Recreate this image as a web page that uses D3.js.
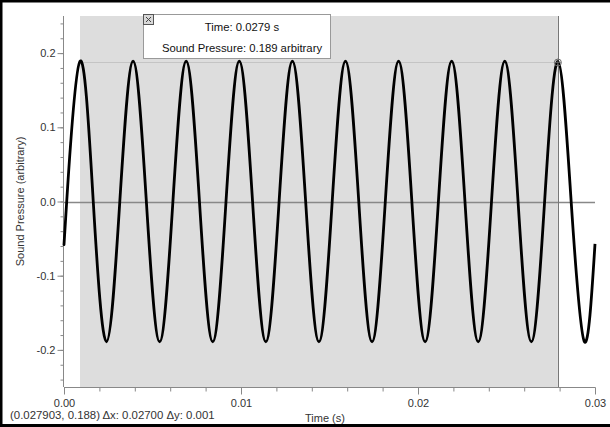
<!DOCTYPE html>
<html>
<head>
<meta charset="utf-8">
<script src="https://cdn.jsdelivr.net/npm/d3@7"></script>
<style>
  body { margin: 0; background: #fff; }
  svg { display: block; font-family: "Liberation Sans", Arial, sans-serif; }
</style>
</head>
<body>
<div id="chart"></div>
<script>
// values
const peakTimes = [0.000903, 0.003903, 0.006903, 0.009903, 0.012903, 0.015903, 0.018903, 0.021903, 0.024903, 0.027903];
const troughTimes = [0.002403, 0.005403, 0.008403, 0.011403, 0.014403, 0.017403, 0.020403, 0.023403, 0.026403, 0.029403];
const riseTimes = [0.000153, 0.003153, 0.006153, 0.009153, 0.012153, 0.015153, 0.018153, 0.021153, 0.024153, 0.027153];
const fallTimes = [0.001653, 0.004653, 0.007653, 0.010653, 0.013653, 0.016653, 0.019653, 0.022653, 0.025653, 0.028653];
const peakValue = 0.189;
const troughValue = -0.189;
const startPoint = [0, -0.058];
const endPoint = [0.03, -0.057];

const xMajor = [0, 0.01, 0.02, 0.03];
const xLabels = ['0.00', '0.01', '0.02', '0.03'];
const yMajor = [-0.2, -0.1, 0, 0.1, 0.2];
const yLabels = ['-0.2', '-0.1', '0.0', '0.1', '0.2'];

const selStart = 0.000903;
const selEnd = 0.027903;
const cursorValue = 0.188;
const tipLines = ['Time: 0.0279 s', 'Sound Pressure: 0.189 arbitrary'];
const statusText = '(0.027903, 0.188) \u0394x: 0.02700 \u0394y: 0.001';

const width = 610, height = 427;

// build the series from the read points
const points = [startPoint]
  .concat(riseTimes.map(t => [t, 0]))
  .concat(peakTimes.map(t => [t, peakValue]))
  .concat(fallTimes.map(t => [t, 0]))
  .concat(troughTimes.map(t => [t, troughValue]))
  .concat([endPoint])
  .sort((a, b) => a[0] - b[0]);

const svg = d3.select('#chart').append('svg')
  .attr('width', width)
  .attr('height', height);

const x = d3.scaleLinear().domain([0, 0.03]).range([64, 595]);
const y = d3.scaleLinear().domain([-0.25, 0.25]).range([387, 16]);

// selection region
svg.append('rect')
  .attr('x', x(selStart))
  .attr('y', y(0.25))
  .attr('width', x(selEnd) - x(selStart))
  .attr('height', y(-0.25) - y(0.25))
  .attr('fill', '#dddddd');

// cursor horizontal guide
svg.append('line')
  .attr('x1', x(selStart)).attr('x2', x(selEnd))
  .attr('y1', y(cursorValue) + 0.5).attr('y2', y(cursorValue) + 0.5)
  .attr('stroke', '#c4c4c4');

// zero line
svg.append('line')
  .attr('x1', x(0)).attr('x2', x(0.03))
  .attr('y1', Math.round(y(0)) + 0.5).attr('y2', Math.round(y(0)) + 0.5)
  .attr('stroke', '#888')
  .attr('stroke-width', 1.5);

// selection end line
svg.append('line')
  .attr('x1', Math.round(x(selEnd)) + 0.5).attr('x2', Math.round(x(selEnd)) + 0.5)
  .attr('y1', y(0.25)).attr('y2', y(-0.25))
  .attr('stroke', '#777');

// axes
const xAxis = svg.append('g')
  .attr('transform', `translate(0,${y(-0.25) + 0.5})`);
xAxis.call(d3.axisBottom(x).tickValues(d3.range(0, 0.0301, 0.002)).tickSize(4).tickFormat(''));
xAxis.call(g => g.select('.domain').attr('d', `M${x(0)},0H${x(0.03)}`));
xAxis.append('g').call(d3.axisBottom(x).tickValues(xMajor).tickSize(7).tickFormat((d, i) => xLabels[i]))
  .call(g => g.select('.domain').remove());
xAxis.selectAll('line, path').attr('stroke', '#888');
xAxis.selectAll('text').attr('fill', '#333').attr('font-size', 11)
  .attr('font-family', '"Liberation Sans", Arial, sans-serif').attr('dy', '0.9em');

const yAxis = svg.append('g')
  .attr('transform', `translate(${x(0) - 0.5},0)`);
yAxis.call(d3.axisLeft(y).tickValues(d3.range(-0.24, 0.2401, 0.02)).tickSize(3).tickFormat(''));
yAxis.call(g => g.select('.domain').attr('d', `M0,${y(0.25)}V${y(-0.25)}`));
yAxis.append('g').call(d3.axisLeft(y).tickValues(yMajor).tickSize(6).tickFormat((d, i) => yLabels[i]))
  .call(g => g.select('.domain').remove());
yAxis.selectAll('line, path').attr('stroke', '#888');
yAxis.selectAll('text').attr('fill', '#333').attr('font-size', 11)
  .attr('font-family', '"Liberation Sans", Arial, sans-serif').attr('x', -8);

// waveform
svg.append('path')
  .datum(points)
  .attr('d', d3.line().x(d => x(d[0])).y(d => y(d[1])).curve(d3.curveNatural))
  .attr('fill', 'none')
  .attr('stroke', '#000')
  .attr('stroke-width', 2.8);

// cursor marker
const mx = x(selEnd), my = y(cursorValue) + 0.5;
svg.append('circle')
  .attr('cx', mx).attr('cy', my).attr('r', 3.5)
  .attr('fill', 'none').attr('stroke', '#666').attr('stroke-width', 1);
svg.append('path')
  .attr('d', `M${mx - 3},${my}H${mx + 3}M${mx},${my - 3}V${my + 3}`)
  .attr('stroke', '#666').attr('stroke-width', 0.8);

// tooltip box
svg.append('rect')
  .attr('x', 143.5).attr('y', 14.5).attr('width', 187).attr('height', 44)
  .attr('fill', '#fff').attr('stroke', '#999');
svg.append('rect')
  .attr('x', 143.5).attr('y', 14.5).attr('width', 10).attr('height', 10)
  .attr('fill', '#d8d8d8').attr('stroke', '#555');
svg.append('path')
  .attr('d', 'M146,17L151,22M151,17L146,22')
  .attr('stroke', '#444').attr('stroke-width', 1);
svg.selectAll('.tip')
  .data(tipLines)
  .join('text')
  .attr('class', 'tip')
  .attr('x', 242)
  .attr('y', (d, i) => 31 + i * 21)
  .attr('text-anchor', 'middle')
  .attr('font-size', 11.3)
  .attr('fill', '#111')
  .text(d => d);

// axis titles
svg.append('text')
  .attr('transform', `translate(24,${y(0)}) rotate(-90)`)
  .attr('text-anchor', 'middle')
  .attr('font-size', 11)
  .attr('fill', '#333')
  .text('Sound Pressure (arbitrary)');
svg.append('text')
  .attr('x', 325).attr('y', 422)
  .attr('text-anchor', 'middle')
  .attr('font-size', 11)
  .attr('fill', '#333')
  .text('Time (s)');
svg.append('text')
  .attr('x', 10).attr('y', 419)
  .attr('font-size', 11.4)
  .attr('fill', '#333')
  .text(statusText);

// frame
svg.append('path')
  .attr('d', `M1,${height}V1H${width}M0,${height - 1.5}H${width}`)
  .attr('fill', 'none')
  .attr('stroke', '#000')
  .attr('stroke-width', 3);
</script>
</body>
</html>
